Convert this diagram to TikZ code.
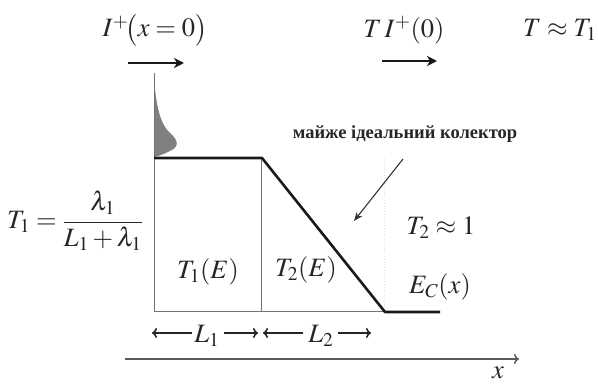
\documentclass[tikz,border=0pt]{standalone}
\usepackage{mathptmx}
\usepackage{fontspec}
\setmainfont{Liberation Serif}
\usetikzlibrary{arrows.meta}
\begin{document}
\begin{tikzpicture}[x=1pt,y=-1pt,
  thinline/.style={draw=black!55, line width=1pt},
  thickline/.style={draw=black!90, line width=2.6pt, line join=round},
  mathlbl/.style={font=\fontsize{26.5}{30}\selectfont, text=black!85, inner sep=0pt},
  textlbl/.style={font=\fontsize{18.5}{22}\selectfont\bfseries, text=black!85, inner sep=0pt},
  dimarrow/.style={-{To[length=5pt,width=10pt]}, line width=1.6pt, draw=black!85},
  bigarrow/.style={-{Stealth[length=10pt,width=10pt,inset=3pt]}, line width=2.4pt, draw=black!90},
  ptr/.style={-{Stealth[length=9pt,width=7pt]}, line width=1.1pt, draw=black!80}
]
\useasboundingbox (0,0) rectangle (598,385);

% main profile
\coordinate (tl) at (154,158);
\coordinate (pe) at (262,158);
\coordinate (se) at (385,312);
\coordinate (re) at (440,312);
\coordinate (bl) at (154,312);
\coordinate (bd) at (261,312);
\coordinate (dt) at (261,158);
\coordinate (ft) at (384,158);
\coordinate (fb) at (384,312);
\coordinate (dtop) at (154,73);

% faint region border
\draw[black!12, dotted, line width=0.8pt] (ft) -- (fb);

% distribution
\fill[black!50] (154,78) .. controls (156,105) and (160,122) .. (168,131)
  .. controls (176,138) and (181,145) .. (172,150)
  .. controls (166,153) and (160,156) .. (154,157) -- cycle;
\draw[thinline] (dtop) -- (bl);
\draw[thinline] (dt) -- (bd);
\draw[thinline] (bl) -- (se);
\draw[thickline] (tl) -- (pe) -- (se) -- (re);

% axis
\coordinate (ax0) at (125,359);
\coordinate (ax1) at (519,359);
\draw[line width=1.4pt, draw=black!65, -{To[length=5pt,width=10pt]}] (ax0) -- (ax1);
\node[mathlbl] (xl) at (498,373) {$x$};

% top labels
\node[mathlbl, anchor=base] (Iin) at (155,37) {\smash{$I^{+}\!\bigl(x=0\bigr)$}};
\coordinate (a1s) at (128,63);
\coordinate (a1e) at (184,63);
\draw[bigarrow] (a1s) -- (a1e);
\node[mathlbl] (Iout) at (404,30) {$T\,I^{+}(0)$};
\coordinate (a2s) at (382,61);
\coordinate (a2e) at (437,61);
\draw[bigarrow] (a2s) -- (a2e);
\node[mathlbl, anchor=west] (Tapp) at (523,30) {$T\approx T_1$};

% formula
\node[mathlbl, anchor=west] (T1f) at (7,221) {$\displaystyle T_1=\frac{\lambda_1}{L_1+\lambda_1}$};

% region labels
\node[mathlbl] (T1E) at (208,272) {$T_1(E)$};
\node[mathlbl] (T2E) at (306,270) {$T_2(E)$};
\node[mathlbl] (T2a) at (441,228) {$T_2\approx 1$};
\node[mathlbl] (Ec) at (440,287) {$E_C(x)$};

% collector label and pointer
\node[textlbl] (coll) at (405,134) {майже ідеальний колектор};
\coordinate (ps) at (403,159);
\coordinate (pe2) at (354,221);
\draw[ptr] (ps) -- (pe2);

% length markers
\node[mathlbl] (L1) at (207,336) {$L_1$};
\node[mathlbl] (L2) at (321,336) {$L_2$};
\coordinate (l1a) at (192,333);
\coordinate (l1b) at (152,333);
\coordinate (l1c) at (224,333);
\coordinate (l1d) at (258,333);
\coordinate (l2a) at (303,333);
\coordinate (l2b) at (263,333);
\coordinate (l2c) at (338,333);
\coordinate (l2d) at (371,333);
\draw[dimarrow] (l1a) -- (l1b);
\draw[dimarrow] (l1c) -- (l1d);
\draw[dimarrow] (l2a) -- (l2b);
\draw[dimarrow] (l2c) -- (l2d);
\end{tikzpicture}
\end{document}
